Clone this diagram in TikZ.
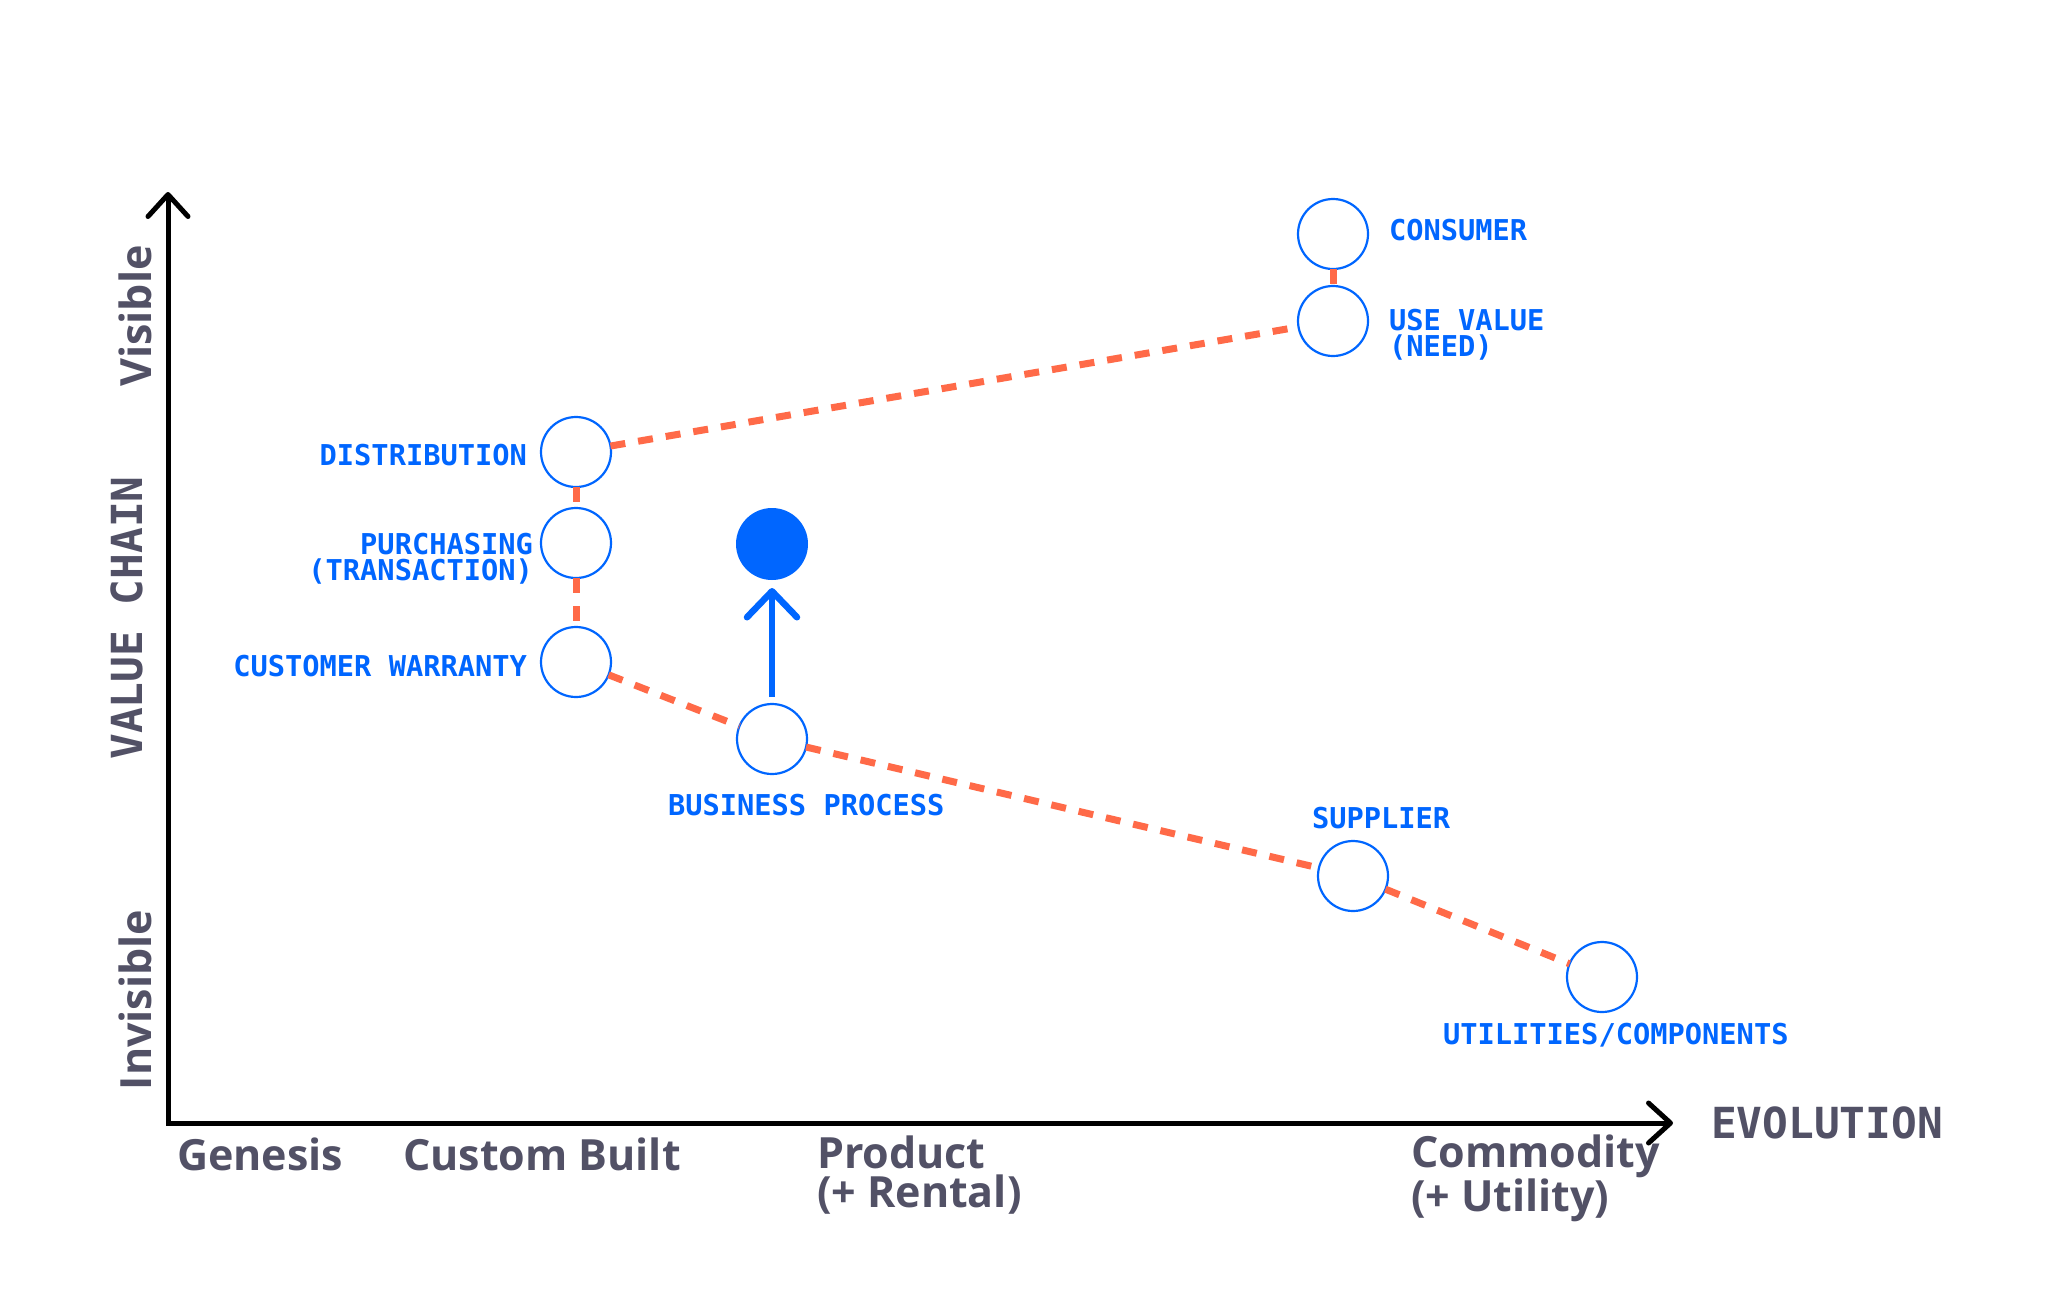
\documentclass[tikz,border=0pt]{standalone}
\usepackage{fontspec}
\usetikzlibrary{arrows.meta}
\newfontfamily\monof{DejaVu Sans Mono}
\newfontfamily\sansf{Open Sans}
\definecolor{cblue}{RGB}{0,102,255}
\definecolor{corange}{RGB}{255,106,72}
\definecolor{cgray}{RGB}{82,81,102}
\begin{document}
\begin{tikzpicture}[x=1pt,y=-1pt,
  every node/.style={inner sep=0pt, outer sep=0pt},
  comp/.style={circle, draw=cblue, line width=2.2pt, fill=white, minimum size=70pt},
  compfill/.style={circle, fill=cblue, minimum size=72pt},
  link/.style={draw=corange, line width=7pt, dash pattern=on 15pt off 13pt},
  axis/.style={line width=5pt, {Straight Barb[length=22pt,width=40pt,round]}-{Straight Barb[length=22pt,width=40pt,round]}},
  move/.style={draw=cblue, line width=6.5pt, -{Straight Barb[length=26pt,width=50pt,round]}},
  lbl/.style={text=cblue, font=\monof\bfseries\fontsize{28.7}{26}\selectfont},
  glabel/.style={text=cgray, font=\sansf\bfseries\fontsize{43}{39}\selectfont, align=left},
  gmono/.style={text=cgray, font=\monof\bfseries\fontsize{42.8}{44}\selectfont}]
\useasboundingbox[fill=white] (0,0) rectangle (2048,1293);

% axes
\coordinate (ytop) at (168,192);
\coordinate (orig) at (168,1123);
\coordinate (xend) at (1673,1123);
\draw[axis] (ytop) -- (orig) -- (xend);

% components
\node[comp] (consumer) at (1333,234) {};
\node[comp] (usevalue) at (1333,321) {};
\node[comp] (distribution) at (576,452) {};
\node[comp] (purchasing) at (576,543) {};
\node[comp] (warranty) at (576,662) {};
\node[comp] (business) at (772,739) {};
\node[compfill] (businessnew) at (772,544) {};
\node[comp] (supplier) at (1353,876) {};
\node[comp] (utilities) at (1602,977) {};

% links
\draw[link] (consumer) -- (usevalue);
\draw[link] (distribution) -- (usevalue);
\draw[link] (distribution) -- (purchasing);
\draw[link] (purchasing) -- (warranty);
\draw[link] (warranty) -- (business);
\draw[link] (business) -- (supplier);
\draw[link] (supplier) -- (utilities);

% movement
\draw[move, shorten <=7pt, shorten >=8pt] (business) -- (businessnew);

% component labels (base of multi-line nodes = last line)
\node[lbl, anchor=base west] (lconsumer) at (1389,240) {CONSUMER};
\node[lbl, anchor=base west, align=left] (lusevalue) at (1389,356) {USE VALUE\\(NEED)};
\node[lbl, anchor=base east] (ldistribution) at (527,465) {DISTRIBUTION};
\node[lbl, anchor=base east, align=right] (lpurchasing) at (533,580) {PURCHASING\\(TRANSACTION)};
\node[lbl, anchor=base east] (lwarranty) at (527,676) {CUSTOMER WARRANTY};
\node[lbl, anchor=base west] (lbusiness) at (668,815) {BUSINESS PROCESS};
\node[lbl, anchor=base west] (lsupplier) at (1312,828) {SUPPLIER};
\node[lbl, anchor=base west] (lutilities) at (1443,1044) {UTILITIES/COMPONENTS};

% axis labels
\node[glabel, anchor=base west] (genesis) at (177,1170) {Genesis};
\node[glabel, anchor=base west] (custom) at (403,1170) {Custom Built};
\node[glabel, anchor=base west] (product) at (817,1207) {Product\\(+ Rental)};
\node[glabel, anchor=base west] (commodity) at (1411,1211) {Commodity\\(+ Utility)};
\node[gmono, anchor=base west] (evolution) at (1711,1138) {EVOLUTION};
\node[glabel, rotate=90, anchor=base] (visible) at (151,316) {Visible};
\node[gmono, rotate=90, anchor=base] (valuechain) at (142,618) {VALUE CHAIN};
\node[glabel, rotate=90, anchor=base] (invisible) at (151,1000) {Invisible};
\end{tikzpicture}
\end{document}
